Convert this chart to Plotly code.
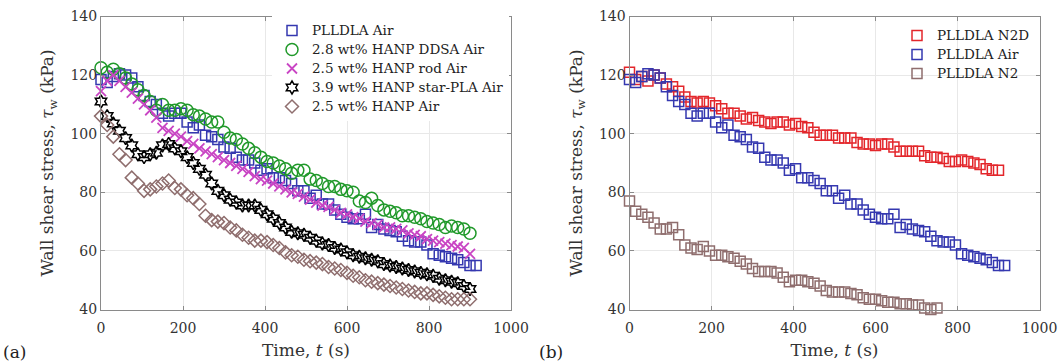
import plotly.graph_objects as go

# ---------------- data ----------------
time_s = [0, 15, 30, 45, 60, 75, 90, 105, 120, 135, 150, 165, 180, 195, 210, 225, 240, 255, 270, 285,
          300, 315, 330, 345, 360, 375, 390, 405, 420, 435, 450, 465, 480, 495, 510, 525, 540, 555, 570, 585,
          600, 615, 630, 645, 660, 675, 690, 705, 720, 735, 750, 765, 780, 795, 810, 825, 840, 855, 870, 885,
          900, 915]

plldla_air = [118.5, 117.5, 119.5, 120.5, 120, 119, 116, 113, 111, 110, 107, 106, 107, 107, 104, 102, 103, 99.5, 99, 98,
              95.5, 95, 92, 91, 91, 90, 87.5, 88, 85, 85, 84, 83, 80.5, 80.5, 78, 79, 76, 76, 74, 72.5,
              71.5, 71, 71, 72.5, 68, 69, 67.5, 67, 66.5, 65, 63.5, 63, 63, 62, 59, 58.5, 58, 57.5, 57, 56,
              55, 55]

hanp_ddsa_air = [122.5, 121, 122, 120.5, 119, 117, 115, 113, 111, 108, 110, 108, 108, 108.5, 108, 106.5, 106, 105, 104, 104,
                 100.5, 98.5, 98, 96.5, 95, 93.5, 92, 90.5, 90, 89, 88, 86.5, 87.5, 87.5, 84.5, 84, 83, 82, 82, 81,
                 80.5, 80, 77, 76.5, 78, 75.5, 74, 73.5, 73, 72, 72, 71.5, 71, 70, 69.5, 69, 68, 68.5, 68, 67.5,
                 66]

hanp_rod_air = [114.5, 118, 120, 118, 116, 114, 112, 110, 108, 105.5, 102, 101, 100, 99, 97.5, 96.5, 95, 94, 93, 92,
                91, 90, 89, 88, 87, 85.5, 84.5, 84, 83, 82, 81, 80, 79.5, 78.5, 77.5, 76.5, 75.5, 75, 74, 73,
                72.5, 71.5, 71, 70, 69.5, 69, 68, 68, 67.5, 67, 66, 65.5, 65, 64, 63.5, 63, 62.5, 62, 61.5, 61,
                59]

hanp_star_air = [111, 106, 103.5, 101, 98.5, 96, 93, 92, 93, 93.5, 96, 96.5, 95, 94, 92, 90, 88, 86, 83, 80.5,
                 79, 77.5, 76.5, 75.5, 75.5, 75.5, 74, 72.5, 71, 69.5, 68, 66.5, 66, 65.5, 64.5, 63.5, 62.5, 62, 61, 60.5,
                 59.5, 58.5, 58, 57.5, 57, 56.5, 55.5, 55, 54.5, 54, 53.5, 53, 52.5, 52, 51.5, 50.5, 50, 49.5, 49, 48,
                 47]

hanp_air = [106, 103, 99, 93, 91, 85, 83, 80.5, 81, 82, 83, 84, 81.5, 81, 79, 78, 76, 72, 70.5, 70,
            69.5, 68, 67, 65.5, 64.5, 63.5, 63.5, 63, 62, 61, 59.5, 58.5, 58, 57, 56.5, 56, 55.5, 54.5, 54, 53.5,
            52.5, 51.5, 51, 50, 49.5, 49, 48.5, 48, 47.5, 47, 46.5, 46, 45.5, 45.5, 45, 44.5, 44, 43.5, 43.5, 43.5,
            43.5]

plldla_n2d = [121, 118.5, 119.5, 118, 120, 119, 117, 116, 114.5, 112.5, 111, 110.5, 111, 110.5, 109.5, 108.5, 107, 107, 106, 105,
              105.5, 104.5, 104, 103.5, 104, 104, 103, 103.5, 102.5, 102, 100.5, 99.5, 99.5, 99.5, 98.5, 98.5, 98.5, 97, 96.5, 96.5,
              96, 96.5, 96.5, 95.5, 94, 94, 94, 94, 92.5, 92, 92, 91.5, 90.5, 90.5, 91, 90.5, 90, 89.5, 88, 87.5,
              87.5]

plldla_n2 = [77, 73.5, 72.5, 71.5, 69.5, 67.5, 67.5, 68, 65.5, 62, 61, 60.5, 61.5, 60, 58.5, 58.5, 58, 57.5, 56.5, 55.5,
             54, 53, 53, 53, 52.5, 51, 49.5, 50, 50, 49.5, 49, 48, 46.5, 46, 46, 46, 45.5, 45, 44, 43.5,
             43.5, 43, 42.5, 42.5, 42, 42, 41.5, 41.5, 40.5, 40, 40.5]

x_ticks = [0, 200, 400, 600, 800, 1000]
y_ticks = [40, 60, 80, 100, 120, 140]

# ---------------- styling ----------------
FONT = "DejaVu Serif"
BLUE = "#3538b0"
GREEN = "#20992a"
MAGENTA = "#c945c4"
BLACK = "#000000"
BROWN = "#8f6e6e"
RED = "#e3262b"
LEG_TXT = 13.5   # rendered legend text size
LEG_ROW = 10.8   # legend font size that sets the row pitch

fig = go.Figure()


def add(xs, ys, name, symbol, color, size, xaxis, yaxis, legend, width=1.5):
    fig.add_trace(go.Scatter(
        x=xs[:len(ys)], y=ys, mode="markers",
        name=f'<span style="font-size:{LEG_TXT}px">{name}</span>',
        marker=dict(symbol=symbol, size=size, color=color,
                    line=dict(color=color, width=width)),
        xaxis=xaxis, yaxis=yaxis, legend=legend, cliponaxis=False,
    ))


# panel (a)
add(time_s, plldla_air, "PLLDLA Air", "square-open", BLUE, 10, "x", "y", "legend")
add(time_s, hanp_ddsa_air, "2.8 wt% HANP DDSA Air", "circle-open", GREEN, 12, "x", "y", "legend")
add(time_s, hanp_rod_air, "2.5 wt% HANP rod Air", "x-thin-open", MAGENTA, 10, "x", "y", "legend", 1.8)
add(time_s, hanp_star_air, "3.9 wt% HANP star-PLA Air", "hexagram-open", BLACK, 10, "x", "y", "legend")
add(time_s, hanp_air, "2.5 wt% HANP Air", "diamond-open", BROWN, 10, "x", "y", "legend")

# panel (b)
add(time_s, plldla_n2d, "PLLDLA N2D", "square-open", RED, 10, "x2", "y2", "legend2")
add(time_s, plldla_air, "PLLDLA Air", "square-open", BLUE, 10, "x2", "y2", "legend2")
add(time_s, plldla_n2, "PLLDLA N2", "square-open", BROWN, 10, "x2", "y2", "legend2")

W, H = 1058, 362


def px_x(p):
    return p / W


def px_y(p):
    return 1 - p / H


axis_common = dict(
    showline=True, linecolor="#8a8a8a", linewidth=1, mirror="ticks",
    showgrid=True, gridcolor="#e8e8e8", gridwidth=1, zeroline=False,
    ticks="inside", ticklen=4, tickcolor="#8a8a8a", automargin=False,
    tickfont=dict(family=FONT, size=14, color="#333333"),
)

title_font = dict(family=FONT, size=17, color="#333333")
xtitle = "Time, <i>t</i> (s)"
ytitle = "Wall shear stress, <i>τ</i><sub>w</sub> (kPa)"

xa = dict(range=[0, 1000], tickvals=x_ticks, ticklabelstandoff=6,
          title=dict(text=xtitle, font=title_font, standoff=8), **axis_common)
ya = dict(domain=[px_y(309.5), px_y(16.5)], range=[40, 140], tickvals=y_ticks,
          title=dict(text=ytitle, font=title_font, standoff=12), **axis_common)

fig.update_layout(
    width=W, height=H,
    margin=dict(l=0, r=0, t=0, b=0),
    paper_bgcolor="white", plot_bgcolor="white",
    showlegend=True,
    xaxis=dict(domain=[px_x(101), px_x(511)], anchor="y", **xa),
    yaxis=dict(anchor="x", **ya),
    xaxis2=dict(domain=[px_x(629.5), px_x(1039.5)], anchor="y2", **xa),
    yaxis2=dict(anchor="x2", **ya),
    legend=dict(x=px_x(272), y=px_y(16), xanchor="left", yanchor="top",
                bgcolor="white", borderwidth=0, tracegroupgap=0,
                font=dict(family=FONT, size=LEG_ROW, color="#222222")),
    legend2=dict(x=px_x(897), y=px_y(21), xanchor="left", yanchor="top",
                 bgcolor="rgba(255,255,255,0)", borderwidth=0, tracegroupgap=0,
                 font=dict(family=FONT, size=LEG_ROW, color="#222222")),
    annotations=[
        dict(text="(a)", x=px_x(1), y=px_y(352), xref="paper", yref="paper",
             xanchor="left", yanchor="middle", showarrow=False,
             font=dict(family=FONT, size=17, color="#222222")),
        dict(text="(b)", x=px_x(537), y=px_y(352), xref="paper", yref="paper",
             xanchor="left", yanchor="middle", showarrow=False,
             font=dict(family=FONT, size=17, color="#222222")),
    ],
)

fig.write_html("out.html",
               config={"displayModeBar": False},
               post_script="document.body.style.margin='0';document.body.style.overflow='hidden';")
